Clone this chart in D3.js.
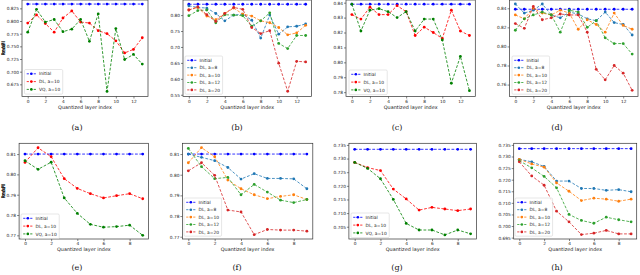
<!DOCTYPE html>
<html lang="en">
<head>
<meta charset="UTF-8">
<title>Quantized layer index panels</title>
<style>
  body { margin: 0; background: #fff; }
  svg { display: block; }
  .tick text { font-family: "DejaVu Sans", sans-serif; font-size: 4.3px; fill: #222; }
  .tick line { stroke: #333; stroke-width: 0.6; }
  .lbl { font-family: "DejaVu Sans", sans-serif; font-size: 4.9px; fill: #222; }
  .leg { font-family: "DejaVu Sans", sans-serif; font-size: 4.4px; fill: #222; }
  .cap { font-family: "DejaVu Serif", serif; font-size: 8px; fill: #111; }
</style>
</head>
<body>
<svg id="fig" width="640" height="275"></svg>
<script src="https://cdnjs.cloudflare.com/ajax/libs/d3/7.8.5/d3.min.js"></script>
<script>
// layer indices
const layers14 = [0, 1, 2, 3, 4, 5, 6, 7, 8, 9, 10, 11, 12, 13];
const layers10 = [0, 1, 2, 3, 4, 5, 6, 7, 8, 9];

// (a) mAP
const initA = [0.8335, 0.8335, 0.8335, 0.8335, 0.8335, 0.8335, 0.8335, 0.8335, 0.8335, 0.8335, 0.8335, 0.8335, 0.8335, 0.8335];
const dlA = [0.796, 0.812, 0.795, 0.778, 0.806, 0.820, 0.798, 0.796, 0.781, 0.775, 0.761, 0.737, 0.744, 0.767];
const vqA = [0.778, 0.823, 0.798, 0.803, 0.779, 0.784, 0.803, 0.760, 0.814, 0.661, 0.785, 0.724, 0.734, 0.715];
const yTicksA = [0.675, 0.700, 0.725, 0.750, 0.775, 0.800, 0.825];

// (b) mAP
const initB = [0.834, 0.834, 0.834, 0.834, 0.834, 0.834, 0.834, 0.834, 0.834, 0.834, 0.834, 0.834, 0.834, 0.834];
const b8 = [0.829, 0.824, 0.822, 0.805, 0.782, 0.800, 0.803, 0.784, 0.728, 0.800, 0.740, 0.763, 0.765, 0.772];
const b10 = [0.816, 0.824, 0.797, 0.786, 0.805, 0.822, 0.803, 0.797, 0.782, 0.776, 0.761, 0.738, 0.744, 0.768];
const b12 = [0.798, 0.814, 0.816, 0.776, 0.801, 0.800, 0.798, 0.765, 0.782, 0.807, 0.711, 0.695, 0.736, 0.736];
const b20 = [0.816, 0.826, 0.801, 0.780, 0.805, 0.824, 0.818, 0.761, 0.742, 0.751, 0.649, 0.561, 0.655, 0.653];
const yTicksB = [0.55, 0.60, 0.65, 0.70, 0.75, 0.80];

// (c) Recall
const initC = [0.839, 0.839, 0.839, 0.839, 0.839, 0.839, 0.839, 0.839, 0.839, 0.839, 0.839, 0.839, 0.839, 0.839];
const dlC = [0.832, 0.829, 0.837, 0.832, 0.832, 0.838, 0.834, 0.818, 0.8236, 0.820, 0.816, 0.835, 0.821, 0.818];
const vqC = [0.839, 0.821, 0.835, 0.836, 0.834, 0.830, 0.834, 0.821, 0.829, 0.829, 0.815, 0.786, 0.804, 0.781];
const yTicksC = [0.78, 0.79, 0.80, 0.81, 0.82, 0.83, 0.84];

// (d) Recall
const initD = [0.839, 0.839, 0.839, 0.839, 0.839, 0.839, 0.839, 0.839, 0.839, 0.839, 0.839, 0.839, 0.839, 0.839];
const d8 = [0.8445, 0.835, 0.838, 0.8445, 0.833, 0.830, 0.836, 0.834, 0.829, 0.827, 0.836, 0.825, 0.823, 0.812];
const d10 = [0.833, 0.829, 0.840, 0.835, 0.833, 0.838, 0.835, 0.818, 0.828, 0.823, 0.815, 0.835, 0.822, 0.818];
const d12 = [0.817, 0.829, 0.833, 0.836, 0.833, 0.815, 0.838, 0.836, 0.820, 0.827, 0.809, 0.803, 0.803, 0.792];
const d20 = [0.824, 0.819, 0.842, 0.828, 0.830, 0.834, 0.833, 0.833, 0.815, 0.776, 0.765, 0.780, 0.772, 0.754];
const yTicksD = [0.76, 0.78, 0.80, 0.82, 0.84];

// (e) mAP
const initE = [0.810, 0.810, 0.810, 0.810, 0.810, 0.810, 0.810, 0.810, 0.810, 0.810];
const dlE = [0.8059, 0.8131, 0.8087, 0.7979, 0.7931, 0.7905, 0.7884, 0.7895, 0.7905, 0.788];
const vqE = [0.8067, 0.8025, 0.806, 0.7884, 0.7808, 0.7754, 0.774, 0.7743, 0.775, 0.770];
const yTicksE = [0.77, 0.78, 0.79, 0.80, 0.81];

// (f) mAP
const initF = [0.810, 0.810, 0.810, 0.810, 0.810, 0.810, 0.810, 0.810, 0.810, 0.810];
const f8 = [0.810, 0.8084, 0.8068, 0.8035, 0.7979, 0.8005, 0.7982, 0.7982, 0.798, 0.7932];
const f10 = [0.8058, 0.8131, 0.8087, 0.7974, 0.7932, 0.7903, 0.7884, 0.7895, 0.7903, 0.788];
const f12 = [0.8127, 0.8039, 0.7981, 0.7987, 0.7903, 0.7953, 0.7916, 0.7877, 0.7865, 0.788];
const f20 = [0.8019, 0.8058, 0.7997, 0.7829, 0.782, 0.771, 0.7735, 0.7732, 0.7732, 0.7727];
const yTicksF = [0.77, 0.78, 0.79, 0.80, 0.81];

// (g) Recall
const initG = [0.7334, 0.7334, 0.7334, 0.7334, 0.7334, 0.7334, 0.7334, 0.7334, 0.7334, 0.7334];
const dlG = [0.7286, 0.7267, 0.7256, 0.7188, 0.7152, 0.7111, 0.7121, 0.7115, 0.7109, 0.7115];
const vqG = [0.7286, 0.7264, 0.7226, 0.715, 0.7062, 0.7038, 0.7038, 0.702, 0.7038, 0.7024];
const yTicksG = [0.705, 0.710, 0.715, 0.720, 0.725, 0.730, 0.735];

// (h) Recall
const initH = [0.7334, 0.7334, 0.7334, 0.7334, 0.7334, 0.7334, 0.7334, 0.7334, 0.7334, 0.7334];
const h8 = [0.7288, 0.7277, 0.7257, 0.7194, 0.7194, 0.7162, 0.7162, 0.7154, 0.7157, 0.7148];
const h10 = [0.7288, 0.7268, 0.7254, 0.7186, 0.715, 0.711, 0.712, 0.7116, 0.7107, 0.7116];
const h12 = [0.7282, 0.7251, 0.7214, 0.7165, 0.705, 0.7024, 0.7012, 0.7038, 0.7027, 0.7018];
const h20 = [0.7277, 0.7216, 0.7176, 0.7064, 0.7018, 0.6963, 0.6969, 0.6981, 0.6966, 0.6966];
const yTicksH = [0.695, 0.700, 0.705, 0.710, 0.715, 0.720, 0.725, 0.730, 0.735];

const xTicks14 = [0, 2, 4, 6, 8, 10, 12];
const xTicks10 = [0, 2, 4, 6, 8];
const captions = ["(a)", "(b)", "(c)", "(d)", "(e)", "(f)", "(g)", "(h)"];

// colours
const cInit = "#0000ff", cDL = "#ff0000", cVQ = "#008000";
const c8 = "#1f77b4", c10 = "#ff7f0e", c12 = "#2ca02c", c20 = "#d62728";

const twoSeries = (init, dl, vq) => [
  {name: "Initial", color: cInit, v: init},
  {name: "DL, a=10", color: cDL, v: dl},
  {name: "VQ, a=10", color: cVQ, v: vq}
];
const fourSeries = (init, s8, s10, s12, s20) => [
  {name: "Initial", color: cInit, v: init},
  {name: "DL, a=8", color: c8, v: s8},
  {name: "DL, a=10", color: c10, v: s10},
  {name: "DL, a=12", color: c12, v: s12},
  {name: "DL, a=20", color: c20, v: s20}
];

// panel geometry: l, r, t, b in px; ylim = value at bottom / top of frame
const panels = [
  {box: [22, 148, 0, 96.5], xs: layers14, xt: xTicks14, ylim: [0.651, 0.8415], yt: yTicksA, fmt: ".3f", yl: "mAP",
   series: twoSeries(initA, dlA, vqA), leg: [24.5, 69.5], cap: [77, 130]},
  {box: [183, 311.5, 0, 96.5], xs: layers14, xt: xTicks14, ylim: [0.5446, 0.8473], yt: yTicksB, fmt: ".2f", yl: "mAP",
   series: fourSeries(initB, b8, b10, b12, b20), leg: [185, 56], cap: [237, 130]},
  {box: [346, 475.3, 0, 96.5], xs: layers14, xt: xTicks14, ylim: [0.7771, 0.8418], yt: yTicksC, fmt: ".2f", yl: "Recall",
   series: twoSeries(initC, dlC, vqC), leg: [349, 70], cap: [397, 130]},
  {box: [509.5, 638, 0, 96.5], xs: layers14, xt: xTicks14, ylim: [0.7475, 0.8487], yt: yTicksD, fmt: ".2f", yl: "Recall",
   series: fourSeries(initD, d8, d10, d12, d20), leg: [512, 56], cap: [557, 130]},
  {box: [19.1, 148.6, 143.3, 239], xs: layers10, xt: xTicks10, ylim: [0.7682, 0.8153], yt: yTicksE, fmt: ".2f", yl: "mAP",
   series: twoSeries(initE, dlE, vqE), leg: [21, 214], cap: [77, 270]},
  {box: [182.4, 312.8, 143.3, 239], xs: layers10, xt: xTicks10, ylim: [0.7689, 0.8152], yt: yTicksF, fmt: ".2f", yl: "mAP",
   series: fourSeries(initF, f8, f10, f12, f20), leg: [184, 198], cap: [237, 270]},
  {box: [348.9, 476.4, 143.3, 239], xs: layers10, xt: xTicks10, ylim: [0.7005, 0.7356], yt: yTicksG, fmt: ".3f", yl: "Recall",
   series: twoSeries(initG, dlG, vqG), leg: [351, 213], cap: [397, 270]},
  {box: [513.7, 636.7, 143.3, 239], xs: layers10, xt: xTicks10, ylim: [0.6944, 0.7357], yt: yTicksH, fmt: ".3f", yl: "Recall",
   series: fourSeries(initH, h8, h10, h12, h20), leg: [515, 198], cap: [557, 270]}
];

const svg = d3.select("#fig");

panels.forEach((p, i) => {
  const [l, r, t, b] = p.box;
  const n = p.xs[p.xs.length - 1];
  const x = d3.scaleLinear().domain([-0.05 * n, n * 1.05]).range([l, r]);
  const y = d3.scaleLinear().domain(p.ylim).range([b, t]);
  const g = svg.append("g");

  // axes
  const ya = g.append("g")
    .attr("transform", `translate(${l},0)`)
    .call(d3.axisLeft(y).tickValues(p.yt).tickSize(2).tickPadding(1).tickFormat(d3.format(p.fmt)));
  ya.select(".domain").remove();
  const xa = g.append("g")
    .attr("transform", `translate(0,${b})`)
    .call(d3.axisBottom(x).tickValues(p.xt).tickSize(2).tickPadding(1.2).tickFormat(d3.format("d")));
  xa.select(".domain").remove();

  g.append("rect")
    .attr("x", l).attr("y", t).attr("width", r - l).attr("height", b - t)
    .attr("fill", "none").attr("stroke", "#333").attr("stroke-width", 0.7);

  // axis labels
  const bb = ya.node().getBBox();
  const lx = Math.max(bb.x - 1.2, 5.2);
  g.append("text").attr("class", "lbl")
    .attr("transform", `translate(${lx},${(t + b) / 2}) rotate(-90)`)
    .attr("text-anchor", "middle")
    .text(p.yl);
  g.append("text").attr("class", "lbl")
    .attr("x", (l + r) / 2).attr("y", b + 12)
    .attr("text-anchor", "middle")
    .text("Quantized layer index");

  // series
  const line = d3.line().x((d, j) => x(p.xs[j])).y(d => y(d));
  p.series.forEach(s => {
    g.append("path")
      .attr("d", line(s.v))
      .attr("fill", "none")
      .attr("stroke", s.color)
      .attr("stroke-width", 0.8)
      .attr("stroke-dasharray", "2.8,1.6");
    g.selectAll(null).data(s.v).enter().append("circle")
      .attr("cx", (d, j) => x(p.xs[j]))
      .attr("cy", d => y(d))
      .attr("r", 1.4)
      .attr("fill", s.color);
  });

  // legend
  const rowH = p.series.length > 3 ? 7.4 : 7.8;
  const lg = g.append("g").attr("transform", `translate(${p.leg[0]},${p.leg[1]})`);
  const frame = lg.append("rect")
    .attr("fill", "#fff").attr("fill-opacity", 0.85)
    .attr("stroke", "#ccc").attr("stroke-width", 0.5)
    .attr("rx", 1.2);
  let maxW = 0;
  p.series.forEach((s, j) => {
    const cy = 4.3 + j * rowH;
    lg.append("line")
      .attr("x1", 2.2).attr("x2", 11.5).attr("y1", cy).attr("y2", cy)
      .attr("stroke", s.color).attr("stroke-width", 0.8).attr("stroke-dasharray", "2.2,1.3");
    lg.append("circle").attr("cx", 6.85).attr("cy", cy).attr("r", 1.3).attr("fill", s.color);
    const tx = lg.append("text").attr("class", "leg")
      .attr("x", 14.5).attr("y", cy + 1.6)
      .text(s.name);
    maxW = Math.max(maxW, tx.node().getComputedTextLength());
  });
  frame.attr("width", 14.5 + maxW + 2.5).attr("height", p.series.length * rowH + 1.2);

  // caption
  svg.append("text").attr("class", "cap")
    .attr("x", p.cap[0]).attr("y", p.cap[1])
    .attr("text-anchor", "middle")
    .text(captions[i]);
});
</script>
</body>
</html>
